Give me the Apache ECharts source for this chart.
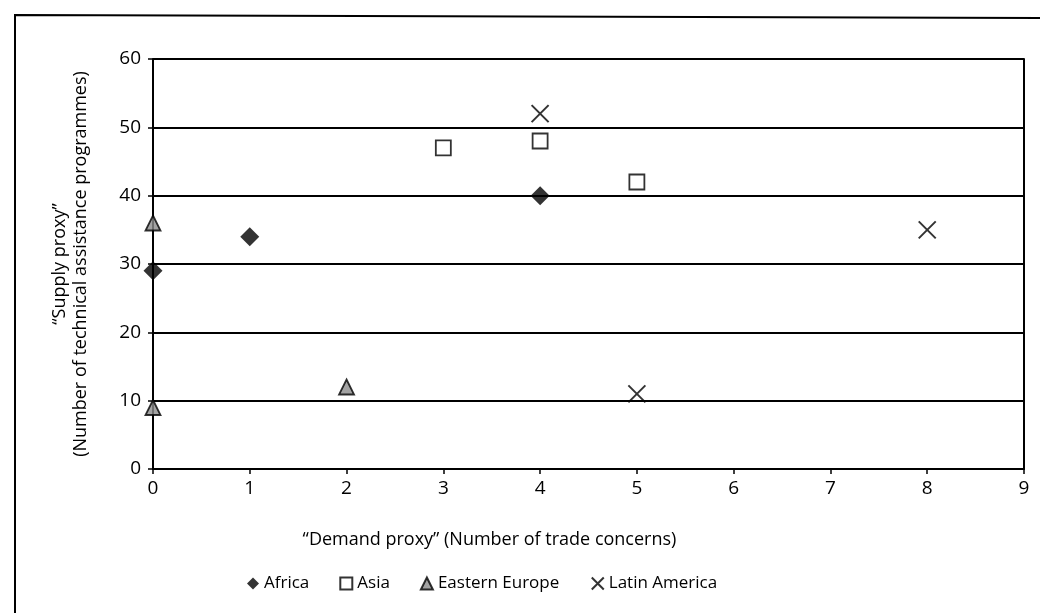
<!DOCTYPE html>
<html>
<head>
<meta charset="utf-8">
<script src="https://cdn.jsdelivr.net/npm/echarts@6/dist/echarts.min.js"></script>
<style>
  html, body { margin: 0; padding: 0; background: #fff; }
  #chart { width: 1048px; height: 613px; }
</style>
</head>
<body>
<div id="chart"></div>
<script>
// demand proxy (x) / supply proxy (y) per region
const africa = [[0, 29], [1, 34], [4, 40]];
const asia = [[3, 47], [4, 48], [5, 42]];
const easternEurope = [[0, 36], [0, 9], [2, 12]];
const latinAmerica = [[4, 52], [5, 11], [8, 35]];

const xTicks = [0, 1, 2, 3, 4, 5, 6, 7, 8, 9];
const yTicks = [0, 10, 20, 30, 40, 50, 60];

const font = '"Open Sans", "Noto Sans", sans-serif';
const crossPath = 'path://M0,0L10,10M10,0L0,10';

const chart = echarts.init(document.getElementById('chart'));

const option = {
  animation: false,
  backgroundColor: '#fff',
  textStyle: { fontFamily: font, color: '#000' },
  grid: { left: 153, right: 24, top: 59, bottom: 144 },
  legend: {
    left: 242,
    top: 570,
    itemGap: 30,
    itemWidth: 12,
    itemHeight: 12,
    textStyle: { fontFamily: font, fontSize: 17, color: '#000' },
    data: ['Africa', 'Asia', 'Eastern Europe', 'Latin America']
  },
  xAxis: {
    type: 'value',
    min: xTicks[0],
    max: xTicks[xTicks.length - 1],
    interval: 1,
    name: '\u201cDemand proxy\u201d (Number of trade concerns)',
    nameLocation: 'middle',
    nameGap: 62,
    nameTextStyle: { fontFamily: font, fontSize: 18, color: '#000', padding: [0, 198, 0, 0] },
    axisLine: { lineStyle: { color: '#000', width: 2 } },
    axisTick: { show: true, length: 5, lineStyle: { color: '#000', width: 1.5 } },
    axisLabel: { fontFamily: font, fontSize: 19, color: '#000', margin: 10 },
    splitLine: { show: false }
  },
  yAxis: [{
    type: 'value',
    min: yTicks[0],
    max: yTicks[yTicks.length - 1],
    interval: 10,
    name: '\u201cSupply proxy\u201d\n(Number of technical assistance programmes)',
    nameLocation: 'middle',
    nameGap: 62,
    nameTextStyle: { fontFamily: font, fontSize: 18, color: '#000', lineHeight: 21 },
    axisLine: { show: true, lineStyle: { color: '#000', width: 2 } },
    axisTick: { show: true, length: 5, lineStyle: { color: '#000', width: 1.5 } },
    axisLabel: { fontFamily: font, fontSize: 19, color: '#000', margin: 12 },
    splitLine: { show: true, lineStyle: { color: '#000', width: 2 } }
  }, {
    type: 'value',
    position: 'right',
    min: yTicks[0],
    max: yTicks[yTicks.length - 1],
    interval: 10,
    axisLine: { show: true, lineStyle: { color: '#000', width: 2 } },
    axisTick: { show: false },
    axisLabel: { show: false },
    splitLine: { show: false }
  }],
  series: [{
    name: 'Africa',
    type: 'scatter',
    symbol: 'diamond',
    symbolSize: 19,
    itemStyle: { color: '#000' },
    data: africa
  }, {
    name: 'Asia',
    type: 'scatter',
    symbol: 'rect',
    symbolSize: 15,
    itemStyle: { color: '#fff', borderColor: '#000', borderWidth: 1.8 },
    data: asia
  }, {
    name: 'Eastern Europe',
    type: 'scatter',
    symbol: 'triangle',
    symbolSize: 15,
    itemStyle: { color: '#8c8c8c', borderColor: '#000', borderWidth: 1.8 },
    data: easternEurope
  }, {
    name: 'Latin America',
    type: 'scatter',
    symbol: crossPath,
    symbolSize: 17,
    itemStyle: { color: 'none', borderColor: '#000', borderWidth: 2 },
    data: latinAmerica
  }],
  graphic: [{
    type: 'polyline',
    shape: { points: [[15, 613], [15, 15], [1040, 18]] },
    style: { stroke: '#000', lineWidth: 2, fill: null }
  }]
};

chart.setOption(option);
</script>
</body>
</html>
